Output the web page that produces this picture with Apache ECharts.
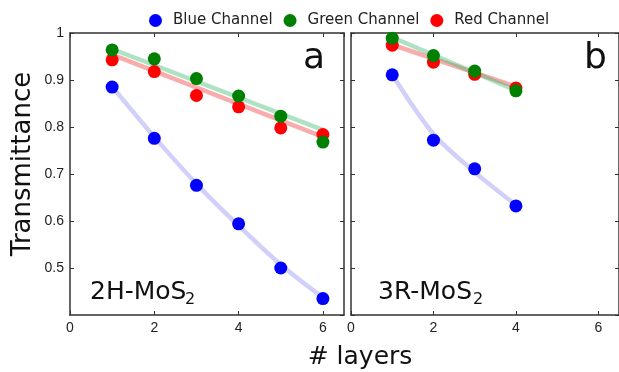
<!DOCTYPE html>
<html>
<head>
<meta charset="utf-8">
<script src="https://cdn.jsdelivr.net/npm/echarts@6/dist/echarts.min.js"></script>
<style>html,body{margin:0;padding:0;background:#fff}#c{width:619px;height:372px}</style>
</head>
<body>
<div id="c"></div>
<script>
// ---- data ----
const layersA = [1, 2, 3, 4, 5, 6];
const blueA  = [0.885, 0.776, 0.676, 0.594, 0.500, 0.435];
const greenA = [0.964, 0.945, 0.903, 0.866, 0.823, 0.768];
const redA   = [0.943, 0.918, 0.867, 0.843, 0.798, 0.784];
const fitBlueA  = [0.886, 0.779, 0.679, 0.590, 0.507, 0.437];
const fitEndsA  = [1, 6];
const fitGreenA = [0.966, 0.794];
const fitRedA   = [0.954, 0.779];

const layersB = [1, 2, 3, 4];
const blueB  = [0.911, 0.772, 0.711, 0.632];
const greenB = [0.989, 0.952, 0.919, 0.877];
const redB   = [0.974, 0.938, 0.912, 0.883];
const fitBlueB  = [0.911, 0.785, 0.704, 0.634];
const fitEndsB  = [1, 4];
const fitGreenB = [0.991, 0.878];
const fitRedB   = [0.975, 0.886];

const xTicks = [0, 2, 4, 6];
const yTicks = [0.5, 0.6, 0.7, 0.8, 0.9, 1];
const seriesNames = ['Blue Channel', 'Green Channel', 'Red Channel'];

const pair = (xs, ys) => xs.map((x, i) => [x, ys[i]]);

const BLUE = '#0000ff', GREEN = '#008000', RED = '#ff0000';
const AX = '#333';

function xAxisDef(grid, pos, labels) {
  return {
    type: 'value', gridIndex: grid, position: pos, min: 0, max: 6.5, interval: 2,
    axisLine: { show: true, onZero: false, lineStyle: { color: AX, width: 1.5 } },
    axisTick: { show: true, inside: true, length: 4, lineStyle: { color: AX } },
    axisLabel: { show: labels, fontFamily: 'Arial', fontSize: 14, color: '#222', margin: 6, showMaxLabel: false,
      formatter: v => (xTicks.indexOf(v) >= 0 ? String(v) : '') },
    splitLine: { show: false }
  };
}
function yAxisDef(grid, pos, labels) {
  return {
    type: 'value', gridIndex: grid, position: pos, min: 0.4, max: 1, interval: 0.1,
    axisLine: { show: true, onZero: false, lineStyle: { color: AX, width: 1.5 } },
    axisTick: { show: true, inside: true, length: 4, lineStyle: { color: AX } },
    axisLabel: { show: labels, fontFamily: 'Arial', fontSize: 14, color: '#222', margin: 6, showMinLabel: false,
      formatter: v => { const r = Math.round(v * 10) / 10; return yTicks.indexOf(r) >= 0 ? (r === 1 ? '1' : r.toFixed(1)) : ''; } },
    splitLine: { show: false }
  };
}

function fitLine(xi, yi, data, color, smooth) {
  return { type: 'line', xAxisIndex: xi, yAxisIndex: yi, data: data, showSymbol: false, symbol: 'none',
    smooth: smooth, lineStyle: { color: color, width: 4.5 }, silent: true, z: 1, legendHoverLink: false };
}
function pts(xi, yi, name, data, color, z) {
  return { type: 'scatter', name: name, xAxisIndex: xi, yAxisIndex: yi, data: data, symbol: 'circle', symbolSize: 13,
    itemStyle: { color: color, opacity: 1 }, z: z };
}

const option = {
  animation: false,
  backgroundColor: '#fff',
  legend: {
    data: seriesNames.map(n => ({ name: n, icon: 'circle' })),
    left: 144, top: 8, itemWidth: 13, itemHeight: 13, itemGap: 11,
    textStyle: { fontFamily: 'DejaVu Sans', fontSize: 15, color: '#222', padding: [0, 0, 0, 6] }
  },
  grid: [
    { left: 70, right: 275, top: 33, bottom: 57 },
    { left: 351, right: -5, top: 33, bottom: 57 }
  ],
  xAxis: [xAxisDef(0, 'bottom', true), xAxisDef(0, 'top', false), xAxisDef(1, 'bottom', true), xAxisDef(1, 'top', false)],
  yAxis: [yAxisDef(0, 'left', true), yAxisDef(0, 'right', false), yAxisDef(1, 'left', false), yAxisDef(1, 'right', false)],
  series: [
    fitLine(0, 0, pair(layersA, fitBlueA), 'rgba(100,100,240,0.3)', 0.3),
    fitLine(0, 0, pair(fitEndsA, fitRedA), 'rgba(240,70,70,0.45)', false),
    fitLine(0, 0, pair(fitEndsA, fitGreenA), 'rgba(60,185,110,0.42)', false),
    pts(0, 0, seriesNames[0], pair(layersA, blueA), BLUE, 3),
    pts(0, 0, seriesNames[2], pair(layersA, redA), RED, 4),
    pts(0, 0, seriesNames[1], pair(layersA, greenA), GREEN, 5),
    fitLine(2, 2, pair(layersB, fitBlueB), 'rgba(100,100,240,0.3)', 0.3),
    fitLine(2, 2, pair(fitEndsB, fitRedB), 'rgba(240,70,70,0.45)', false),
    fitLine(2, 2, pair(fitEndsB, fitGreenB), 'rgba(60,185,110,0.42)', false),
    pts(2, 2, seriesNames[0], pair(layersB, blueB), BLUE, 3),
    pts(2, 2, seriesNames[2], pair(layersB, redB), RED, 4),
    pts(2, 2, seriesNames[1], pair(layersB, greenB), GREEN, 5)
  ],
  graphic: [
    { type: 'text', x: 23, y: 164, rotation: Math.PI / 2,
      style: { text: 'Transmittance', font: '26px "DejaVu Sans"', fill: '#111', textAlign: 'center', textVerticalAlign: 'middle' } },
    { type: 'text', x: 360, y: 357,
      style: { text: '# layers', font: '25px "DejaVu Sans"', fill: '#111', textAlign: 'center', textVerticalAlign: 'middle' } },
    { type: 'text', x: 303, y: 59,
      style: { text: 'a', font: '36px "DejaVu Sans"', fill: '#111', textAlign: 'left', textVerticalAlign: 'middle' } },
    { type: 'text', x: 584, y: 59,
      style: { text: 'b', font: '36px "DejaVu Sans"', fill: '#111', textAlign: 'left', textVerticalAlign: 'middle' } },
    { type: 'text', x: 90, y: 292,
      style: { text: '2H-MoS', font: '25px "DejaVu Sans"', fill: '#111', textAlign: 'left', textVerticalAlign: 'middle' } },
    { type: 'text', x: 185, y: 300,
      style: { text: '2', font: '16px "DejaVu Sans"', fill: '#111', textAlign: 'left', textVerticalAlign: 'middle' } },
    { type: 'text', x: 378, y: 292,
      style: { text: '3R-MoS', font: '25px "DejaVu Sans"', fill: '#111', textAlign: 'left', textVerticalAlign: 'middle' } },
    { type: 'text', x: 473, y: 300,
      style: { text: '2', font: '16px "DejaVu Sans"', fill: '#111', textAlign: 'left', textVerticalAlign: 'middle' } }
  ]
};

const chart = echarts.init(document.getElementById('c'), null, { renderer: 'canvas' });
chart.setOption(option);
</script>
</body>
</html>
